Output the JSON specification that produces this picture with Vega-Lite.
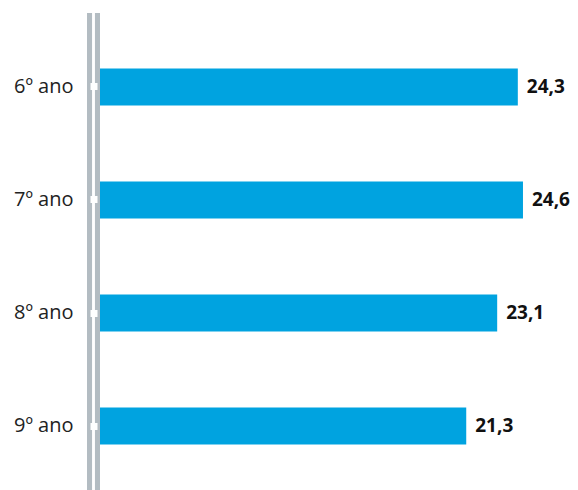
{
  "$schema": "https://vega.github.io/schema/vega-lite/v6.json",
  "width": 478,
  "height": 487,
  "autosize": {"type": "none"},
  "padding": {"left": 100, "top": 13, "right": 0, "bottom": 0},
  "background": "white",
  "config": {
    "view": {"stroke": null},
    "font": "Open Sans"
  },
  "data": {
    "values": [
      {"ano": "6º ano", "valor": 24.3, "rotulo": "24,3"},
      {"ano": "7º ano", "valor": 24.6, "rotulo": "24,6"},
      {"ano": "8º ano", "valor": 23.1, "rotulo": "23,1"},
      {"ano": "9º ano", "valor": 21.3, "rotulo": "21,3"}
    ]
  },
  "layer": [
    {
      "mark": {"type": "bar", "color": "#00a3e0"},
      "encoding": {
        "x": {"field": "valor", "type": "quantitative", "scale": {"domain": [0, 27.8], "nice": false, "zero": false}, "axis": null},
        "y": {
          "field": "ano",
          "type": "nominal",
          "sort": null,
          "title": null,
          "scale": {"paddingInner": 0.673, "paddingOuter": 0.49},
          "axis": {
            "domain": false,
            "offset": 3,
            "tickSize": 7,
            "tickWidth": 7,
            "tickColor": "white",
            "labelPadding": 17,
            "labelFontSize": 20,
            "labelColor": "#222222",
            "labelFont": "Open Sans",
            "zindex": 2
          }
        }
      }
    },
    {
      "mark": {"type": "rule", "color": "#b3bcc2", "strokeWidth": 13},
      "encoding": {"x": {"datum": -0.378}}
    },
    {
      "mark": {"type": "rule", "color": "white", "strokeWidth": 2},
      "encoding": {"x": {"datum": -0.378}}
    },
    {
      "mark": {"type": "text", "align": "left", "dx": 9, "fontSize": 19, "fontWeight": "bold", "color": "#111111", "font": "Open Sans"},
      "encoding": {
        "x": {"field": "valor", "type": "quantitative"},
        "y": {"field": "ano", "type": "nominal", "sort": null},
        "text": {"field": "rotulo", "type": "nominal"}
      }
    }
  ]
}
